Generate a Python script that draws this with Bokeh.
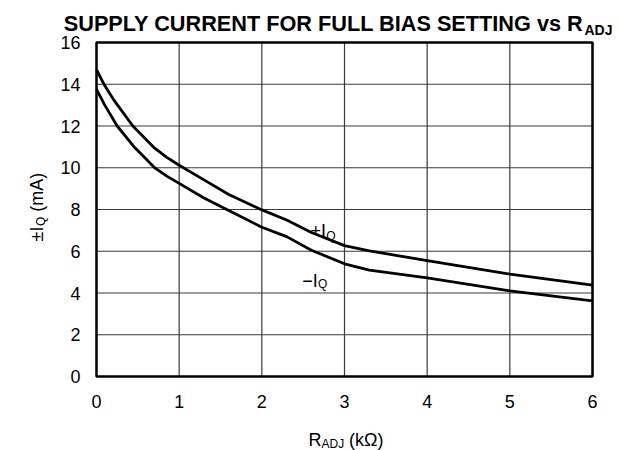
import math
from bokeh.plotting import figure
from bokeh.models import Range1d, FixedTicker, Label
from bokeh.embed import file_html
from bokeh.resources import INLINE

# ---- data ----
r_adj_pos = [0, 0.09, 0.2, 0.44, 0.7, 0.85, 1.0, 1.3, 1.6, 2.0, 2.3, 2.6, 3.0, 3.3, 4.0, 5.0, 6.0]
iq_pos = [14.7, 14.0, 13.3, 12.0, 10.95, 10.5, 10.12, 9.42, 8.72, 7.98, 7.5, 6.9, 6.27, 6.02, 5.55, 4.9, 4.38]
r_adj_neg = [0, 0.1, 0.25, 0.45, 0.71, 0.85, 1.0, 1.3, 1.6, 2.0, 2.3, 2.6, 3.0, 3.3, 4.0, 5.0, 6.0]
iq_neg = [13.75, 13.0, 12.0, 11.02, 9.98, 9.6, 9.25, 8.55, 7.95, 7.15, 6.7, 6.05, 5.4, 5.1, 4.72, 4.1, 3.62]
x_ticks = [0, 1, 2, 3, 4, 5, 6]
y_ticks = [0, 2, 4, 6, 8, 10, 12, 14, 16]

FONT = "Liberation Sans"
W, H = 619, 450
# plot box in canvas pixels (top-left origin)
BL, BR, BT, BB = 96, 592, 42, 376
x0, x1 = x_ticks[0], x_ticks[-1]
y0, y1 = y_ticks[0], y_ticks[-1]
sxu = (BR - BL) / (x1 - x0)
syu = (BB - BT) / (y1 - y0)
xr = Range1d(x0 - BL / sxu, x1 + (W - BR) / sxu)
yr = Range1d(y0 - (H - BB) / syu, y1 + BT / syu)

p = figure(width=W, height=H, output_backend="svg", toolbar_location=None,
           x_range=xr, y_range=yr,
           min_border_left=0, min_border_right=0, min_border_top=0, min_border_bottom=0)
p.background_fill_color = "white"
p.border_fill_color = "white"
p.outline_line_color = None
p.grid.visible = False

for ax, ticks, loc in ((p.xaxis, x_ticks, y0), (p.yaxis, y_ticks, x0)):
    ax.ticker = FixedTicker(ticks=ticks)
    ax.fixed_location = loc
    ax.axis_line_color = None
    ax.major_tick_line_color = None
    ax.minor_tick_line_color = None
    ax.major_tick_out = 0
    ax.major_tick_in = 0
    ax.major_label_text_font = FONT
    ax.major_label_text_font_size = "18px"
    ax.major_label_text_color = "black"
p.xaxis.major_label_standoff = 18
p.yaxis.major_label_standoff = 16

# grid lines at the tick values
p.segment(x0=x_ticks, y0=[y0] * len(x_ticks), x1=x_ticks, y1=[y1] * len(x_ticks),
          line_color="#3a3a3a", line_width=1.2)
p.segment(x0=[x0] * len(y_ticks), y0=y_ticks, x1=[x1] * len(y_ticks), y1=y_ticks,
          line_color="#3a3a3a", line_width=1.2)
# plot frame
p.quad(left=[x0], right=[x1], bottom=[y0], top=[y1], fill_color=None,
       line_color="black", line_width=2.5)

p.line(r_adj_pos, iq_pos, line_color="black", line_width=2.8, line_join="round")
p.line(r_adj_neg, iq_neg, line_color="black", line_width=2.8, line_join="round")

def lab(text, x, y, size, units="screen", bold=False, angle=0.0, align="left"):
    if units == "screen":
        y = H - y  # convert from top-left pixel coordinate
    p.add_layout(Label(text=text, x=x, y=y, x_units=units, y_units=units,
                       text_font=FONT, text_font_size=f"{size}px",
                       text_font_style="bold" if bold else "normal",
                       text_color="black", text_baseline="alphabetic",
                       text_align=align, angle=angle))

# title
lab("SUPPLY CURRENT FOR FULL BIAS SETTING vs R", 583, 23.3, 21.7, bold=True, align="right")
lab("ADJ", 584, 29, 14, bold=True)

# x axis label
lab("R", 308, 439, 18)
lab("ADJ", 321, 443.5, 12)
lab("(k\u03a9)", 348.5, 439, 18)

# y axis label (rotated, reads bottom to top)
a = math.pi / 2
lab("\u00b1I", 36.7, 241, 18, angle=a)
lab("Q", 40.7, 225.5, 12, angle=a)
lab("(mA)", 36.7, 211.2, 18, angle=a)

# curve labels (data coordinates)
lab("+I", 2.59, 6.98, 18, units="data")
lab("Q", 2.78, 6.74, 12, units="data")
lab("\u2212I", 2.49, 4.58, 18, units="data")
lab("Q", 2.68, 4.43, 12, units="data")

open("out.html", "w").write(file_html(p, INLINE))
